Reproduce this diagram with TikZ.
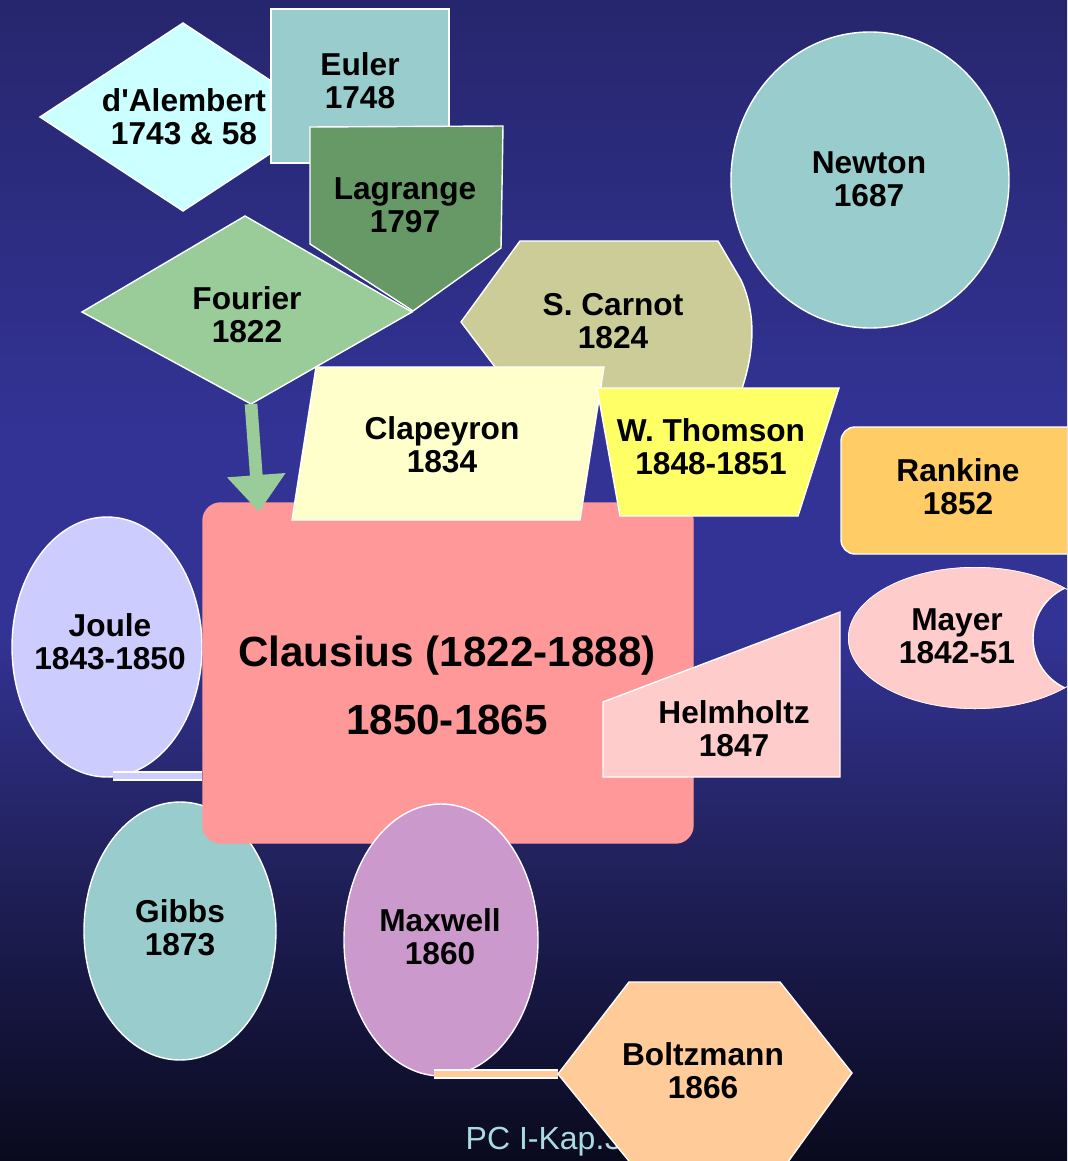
\documentclass[tikz,border=0pt]{standalone}
\usepackage{fontspec}
\setmainfont{Liberation Sans}[Ligatures=TeXOff]
\usetikzlibrary{arrows.meta}

\definecolor{bgtop}{RGB}{38,38,110}
\definecolor{bgmid}{RGB}{51,51,150}
\definecolor{bgdeep}{RGB}{34,34,95}
\definecolor{bglow}{RGB}{22,22,65}
\definecolor{bgbot}{RGB}{10,10,30}
\pgfdeclareverticalshading{bgshade}{100bp}{color(0bp)=(bgbot); color(25bp)=(bgbot); color(32bp)=(bglow); color(38.4bp)=(bgdeep); color(48bp)=(bgmid); color(56bp)=(bgmid); color(75bp)=(bgtop); color(100bp)=(bgtop)}

\definecolor{alembertclr}{HTML}{CCFFFF}
\definecolor{eulerclr}{HTML}{99CCCC}
\definecolor{lagrangeclr}{HTML}{669966}
\definecolor{fourierclr}{HTML}{99CC99}
\definecolor{newtonclr}{HTML}{99CCCC}
\definecolor{carnotclr}{HTML}{CCCC99}
\definecolor{clapeyronclr}{HTML}{FFFFCC}
\definecolor{thomsonclr}{HTML}{FFFF66}
\definecolor{rankineclr}{HTML}{FFCC66}
\definecolor{clausiusclr}{HTML}{FF9999}
\definecolor{jouleclr}{HTML}{CCCCFF}
\definecolor{mayerclr}{HTML}{FFCCCC}
\definecolor{helmholtzclr}{HTML}{FFCCCC}
\definecolor{gibbsclr}{HTML}{99CCCC}
\definecolor{maxwellclr}{HTML}{CC99CC}
\definecolor{boltzmannclr}{HTML}{FFCC99}
\definecolor{footclr}{HTML}{A8DCE0}

\begin{document}
\begin{tikzpicture}[x=0.01cm, y=-0.01cm,
		lbl/.style={align=center, inner sep=0, font=\bfseries\fontsize{9}{9.4}\selectfont},
		shp/.style={draw=white, line width=.4pt},
		tailout/.style={line width=2.8pt, draw=white},
		tailin/.style={line width=1.7pt}]
	\useasboundingbox (0,0) rectangle (1067,1161);
	\shade[shading=bgshade] (0,0) rectangle (1067,1161);
	\clip (0,0) rectangle (1067,1161);

	\filldraw[shp, fill=alembertclr] (40,117) -- (183,23) -- (326,117) -- (183,211) -- cycle;
	\node[lbl] (alembert) at (184,117) {d'Alembert\\1743 \& 58};
	\filldraw[shp, fill=eulerclr] (271,9) rectangle (449,163);
	\node[lbl] (euler) at (360,81) {Euler\\1748};
	\filldraw[shp, fill=lagrangeclr] (310,127) -- (503,126) -- (501,248) -- (413,311) -- (310,244) -- cycle;
	\node[lbl] (lagrange) at (405,205) {Lagrange\\1797};
	\filldraw[shp, fill=fourierclr] (82,312) -- (245,216) -- (412,312) -- (251,404) -- cycle;
	\node[lbl] (fourier) at (247,315) {Fourier\\1822};
	\coordinate (fourierbot) at (251,404);

	\filldraw[shp, fill=newtonclr] (870,180) ellipse [x radius=139, y radius=148];
	\node[lbl] (newton) at (869,179) {Newton\\1687};
	\filldraw[shp, fill=carnotclr] (461,322) -- (520,241) -- (718,241) -- (741,280) .. controls (757,315) and (755,355) .. (738,400) -- (520,400) -- cycle;
	\node[lbl] (carnot) at (613,321) {S. Carnot\\1824};

	\filldraw[shp, fill=jouleclr] (107,647) ellipse [x radius=95, y radius=130];
	\coordinate (joulebot) at (113,776);
	\coordinate (jouleend) at (202,776);
	\draw[tailout] (joulebot) -- (jouleend);
	\draw[tailin, draw=jouleclr] (joulebot) -- (jouleend);
	\node[lbl] (joule) at (110,642) {Joule\\1843-1850};
	\filldraw[shp, fill=gibbsclr] (180,931) ellipse [x radius=96, y radius=129];
	\node[lbl] (gibbs) at (180,928) {Gibbs\\1873};

	\filldraw[fill=clausiusclr, draw=clausiusclr, rounded corners=5pt] (203,503) rectangle (693,843);
	\node[align=center, inner sep=0, font=\bfseries\fontsize{12}{19.3}\selectfont] (clausius) at (447,685) {Clausius (1822-1888)\\1850-1865};
	\coordinate (clausiusin) at (259,512);
	\draw[-{Triangle[width=16pt,length=10.5pt]}, line width=3.6pt, draw=fourierclr] (fourierbot) -- (clausiusin);

	\filldraw[shp, fill=clapeyronclr] (316,367) -- (604,367) -- (580,520) -- (292,520) -- cycle;
	\node[lbl] (clapeyron) at (442,445) {Clapeyron\\1834};
	\filldraw[shp, fill=thomsonclr] (597,388) -- (839,388) -- (798,516) -- (620,516) -- cycle;
	\node[lbl] (thomson) at (711,447) {W. Thomson\\1848-1851};
	\filldraw[shp, fill=rankineclr, rounded corners=4pt] (841,427) rectangle (1090,554);
	\node[lbl] (rankine) at (958,487) {Rankine\\1852};

	\begin{scope}
		\clip (975,638) ellipse [x radius=127, y radius=71];
		\filldraw[shp, fill=mayerclr, even odd rule] (975,638) ellipse [x radius=127, y radius=71] (1088,638) circle [radius=55];
	\end{scope}
	\node[lbl] (mayer) at (957,636) {Mayer\\1842-51};
	\filldraw[shp, fill=helmholtzclr] (603,702) -- (840,612) -- (840,777) -- (603,777) -- cycle;
	\node[lbl] (helmholtz) at (734,729) {Helmholtz\\1847};

	\filldraw[shp, fill=maxwellclr] (441,940) ellipse [x radius=97, y radius=136];
	\node[lbl] (maxwell) at (440,937) {Maxwell\\1860};

	\node[anchor=base west, inner sep=0, text=footclr, font=\fontsize{9.1}{11}\selectfont] (footer) at (465,1149) {PC I-Kap.3};

	\coordinate (boltzleft) at (558,1074);
	\coordinate (boltztail) at (434,1074);
	\draw[tailout] (boltztail) -- (boltzleft);
	\draw[tailin, draw=boltzmannclr] (boltztail) -- (boltzleft);
	\filldraw[shp, fill=boltzmannclr] (boltzleft) -- (629,982) -- (780,982) -- (852,1073) -- (785,1166) -- (633,1166) -- cycle;
	\node[lbl] (boltzmann) at (703,1071) {Boltzmann\\1866};
\end{tikzpicture}
\end{document}
